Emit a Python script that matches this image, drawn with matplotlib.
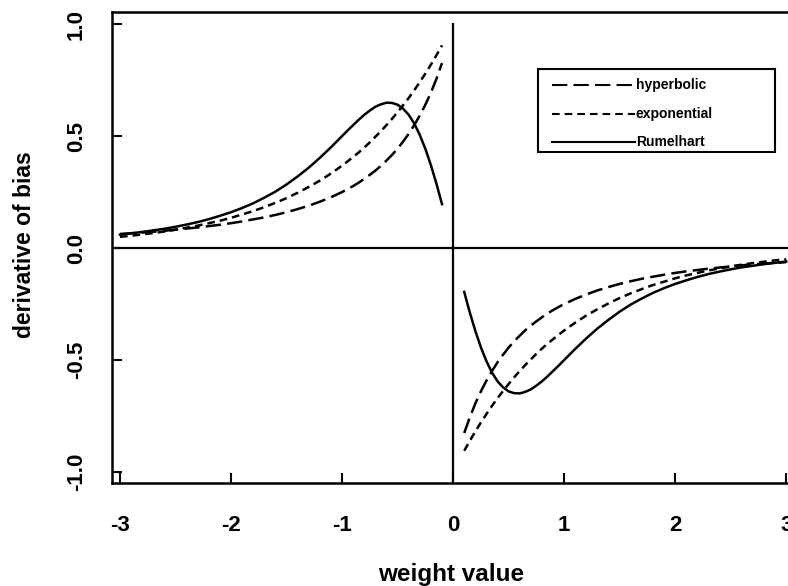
import matplotlib
matplotlib.use("Agg")
import matplotlib.pyplot as plt
from matplotlib.lines import Line2D
from matplotlib.patches import Rectangle

plt.rcParams['font.family'] = ['Liberation Sans', 'DejaVu Sans']
plt.rcParams['font.weight'] = 'bold'
plt.rcParams['lines.scale_dashes'] = False

# ---- data ----
x_left = [-3.0, -2.9, -2.8, -2.7, -2.6, -2.5, -2.4, -2.3, -2.2, -2.1,
          -2.0, -1.9, -1.8, -1.7, -1.6, -1.5, -1.4, -1.3, -1.2, -1.1,
          -1.0, -0.95, -0.9, -0.85, -0.8, -0.75, -0.7, -0.65, -0.6, -0.55,
          -0.5, -0.45, -0.4, -0.35, -0.3, -0.25, -0.2, -0.15, -0.1]
x_right = [0.1, 0.15, 0.2, 0.25, 0.3, 0.35, 0.4, 0.45, 0.5, 0.55,
           0.6, 0.65, 0.7, 0.75, 0.8, 0.85, 0.9, 0.95, 1.0,
           1.1, 1.2, 1.3, 1.4, 1.5, 1.6, 1.7, 1.8, 1.9, 2.0,
           2.1, 2.2, 2.3, 2.4, 2.5, 2.6, 2.7, 2.8, 2.9, 3.0]

hyperbolic_left = [0.063, 0.066, 0.069, 0.073, 0.077, 0.082, 0.087, 0.092, 0.098, 0.104,
                   0.111, 0.119, 0.128, 0.137, 0.148, 0.160, 0.174, 0.189, 0.207, 0.227,
                   0.250, 0.263, 0.277, 0.292, 0.309, 0.327, 0.346, 0.367, 0.391, 0.416,
                   0.444, 0.476, 0.510, 0.549, 0.592, 0.640, 0.694, 0.756, 0.826]
exponential_left = [0.050, 0.055, 0.061, 0.067, 0.074, 0.082, 0.091, 0.100, 0.111, 0.122,
                    0.135, 0.150, 0.165, 0.183, 0.202, 0.223, 0.247, 0.273, 0.301, 0.333,
                    0.368, 0.387, 0.407, 0.427, 0.449, 0.472, 0.497, 0.522, 0.549, 0.577,
                    0.607, 0.638, 0.670, 0.705, 0.741, 0.779, 0.819, 0.861, 0.905]
rumelhart_left = [0.060, 0.066, 0.072, 0.079, 0.086, 0.095, 0.105, 0.116, 0.129, 0.144,
                  0.160, 0.179, 0.200, 0.225, 0.252, 0.284, 0.320, 0.359, 0.403, 0.450,
                  0.500, 0.525, 0.549, 0.573, 0.595, 0.614, 0.631, 0.642, 0.649, 0.648,
                  0.640, 0.622, 0.595, 0.556, 0.505, 0.443, 0.370, 0.287, 0.196]

hyperbolic_right = [-0.826, -0.756, -0.694, -0.640, -0.592, -0.549, -0.510, -0.476, -0.444, -0.416,
                    -0.391, -0.367, -0.346, -0.327, -0.309, -0.292, -0.277, -0.263, -0.250,
                    -0.227, -0.207, -0.189, -0.174, -0.160, -0.148, -0.137, -0.128, -0.119, -0.111,
                    -0.104, -0.098, -0.092, -0.087, -0.082, -0.077, -0.073, -0.069, -0.066, -0.063]
exponential_right = [-0.905, -0.861, -0.819, -0.779, -0.741, -0.705, -0.670, -0.638, -0.607, -0.577,
                     -0.549, -0.522, -0.497, -0.472, -0.449, -0.427, -0.407, -0.387, -0.368,
                     -0.333, -0.301, -0.273, -0.247, -0.223, -0.202, -0.183, -0.165, -0.150, -0.135,
                     -0.122, -0.111, -0.100, -0.091, -0.082, -0.074, -0.067, -0.061, -0.055, -0.050]
rumelhart_right = [-0.196, -0.287, -0.370, -0.443, -0.505, -0.556, -0.595, -0.622, -0.640, -0.648,
                   -0.649, -0.642, -0.631, -0.614, -0.595, -0.573, -0.549, -0.525, -0.500,
                   -0.450, -0.403, -0.359, -0.320, -0.284, -0.252, -0.225, -0.200, -0.179, -0.160,
                   -0.144, -0.129, -0.116, -0.105, -0.095, -0.086, -0.079, -0.072, -0.066, -0.060]

series_names = ["hyperbolic", "exponential", "Rumelhart"]
x_ticks = [-3, -2, -1, 0, 1, 2, 3]
x_ticklabels = ["-3", "-2", "-1", "0", "1", "2", "3"]
y_ticks = [-1.0, -0.5, 0.0, 0.5, 1.0]
y_ticklabels = ["-1.0", "-0.5", "0.0", "0.5", "1.0"]

# ---- figure ----
W, H = 788, 586
fig = plt.figure(figsize=(W / 100, H / 100), dpi=100)
ax = fig.add_axes([112 / W, 1 - 483 / H, 1 - 112 / W + 0.002, (483 - 12) / H])

lw = 1.8
styles = {
    "hyperbolic": dict(dashes=(11, 4.5)),
    "exponential": dict(dashes=(5.5, 3.6)),
    "Rumelhart": dict(linestyle='-'),
}
data = {
    "hyperbolic": (hyperbolic_left, hyperbolic_right),
    "exponential": (exponential_left, exponential_right),
    "Rumelhart": (rumelhart_left, rumelhart_right),
}
for name in series_names:
    left, right = data[name]
    for xs, ys in ((x_left, left), (x_right, right)):
        ax.plot(xs, ys, color='black', lw=lw, solid_joinstyle='round',
                dash_joinstyle='round', **styles[name])

ax.axhline(0, color='black', lw=1.6)
ax.vlines(0, -1.06, 1.005, color='black', lw=1.6)

ax.set_xlim(-3.072, 3.03)
ax.set_ylim(-1.049, 1.054)

for s in ['left', 'bottom', 'top']:
    ax.spines[s].set_linewidth(1.8)
ax.spines['right'].set_visible(False)

ax.set_xticks(x_ticks)
ax.set_xticklabels(x_ticklabels)
ax.set_yticks(y_ticks)
ax.set_yticklabels(y_ticklabels, rotation=90, va='center')
ax.tick_params(axis='both', direction='in', length=7, width=1.5, labelsize=16)
ax.tick_params(axis='x', pad=23)
ax.tick_params(axis='y', pad=18)
ax.tick_params(axis='x', top=False)

ax.set_xlabel("weight value", fontsize=17.5, fontweight='bold')
ax.xaxis.set_label_coords((451 - 112) / (W - 112 + 2), -(574 - 483) / (483 - 12))
ax.set_ylabel("derivative of bias", fontsize=16.5, fontweight='bold')
ax.yaxis.set_label_coords(-(112 - 25) / (W - 112), (483 - 245) / (483 - 12))
ax.xaxis.label.set_va('center')
ax.yaxis.label.set_va('center')

# ---- legend (drawn as a framed box) ----
box = Rectangle((538 / W, 1 - 152 / H), (775 - 538) / W, (152 - 69) / H,
                transform=fig.transFigure, fill=False, edgecolor='black', lw=1.5)
fig.add_artist(box)
rows_y = [85, 114, 142]
for name, yy in zip(series_names, rows_y):
    fy = 1 - yy / H
    ln = Line2D([552 / W, 635 / W], [fy, fy], transform=fig.transFigure,
                color='black', lw=1.5, **styles[name])
    fig.add_artist(ln)
    fig.text(636 / W, fy, name, fontsize=10, fontweight='bold', va='center', ha='left')

fig.savefig("out.png", dpi=100)
